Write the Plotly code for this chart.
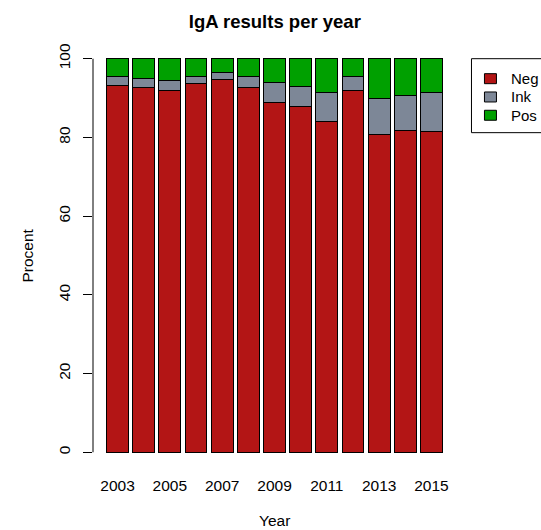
import plotly.graph_objects as go

# ======================================
# DATA
# ======================================

years = [2003, 2004, 2005, 2006, 2007, 2008, 2009,
         2010, 2011, 2012, 2013, 2014, 2015]

neg = [93.2, 92.6, 91.9, 93.6, 94.8, 92.8, 89.0,
       87.9, 84.1, 91.9, 80.7, 81.8, 81.4]
ink = [2.3, 2.4, 2.6, 1.9, 1.7, 2.7, 4.9,
       5.1, 7.2, 3.7, 9.2, 8.8, 9.9]
pos = [4.5, 5.0, 5.5, 4.5, 3.5, 4.5, 6.1,
       7.0, 8.7, 4.4, 10.1, 9.4, 8.7]

year_ticks = [2003, 2005, 2007, 2009, 2011, 2013, 2015]
y_ticks = [0, 20, 40, 60, 80, 100]

series = [
    ("Neg", neg, "#B31515"),
    ("Ink", ink, "#7D8797"),
    ("Pos", pos, "#00A000"),
]

FONT = "Liberation Sans, Arial, sans-serif"
W, H = 541, 530
L, R, T, B = 93, 456.5, 43.3, 468.5   # plot region in pixels


def px(x):
    return (x - L) / (R - L)


def py(y):
    return (B - y) / (B - T)


fig = go.Figure()

for name, vals, color in series:
    fig.add_trace(go.Bar(
        x=years,
        y=vals,
        name=name,
        width=1 / 1.2,
        marker=dict(color=color, line=dict(color="black", width=1)),
        showlegend=False,
    ))

# y axis line only spans 0..100 like base R
fig.add_shape(
    type="line", xref="paper", yref="y",
    x0=0, x1=0, y0=0, y1=100,
    line=dict(color="black", width=1),
)

# =========================
# LEGEND (base R style box)
# =========================

fig.add_shape(
    type="rect", xref="paper", yref="paper",
    x0=px(472), x1=px(570), y0=py(133), y1=py(59),
    line=dict(color="black", width=1), fillcolor="white",
)

for i, (name, vals, color) in enumerate(series):
    cy = 79 + i * 18.3
    fig.add_shape(
        type="rect", xref="paper", yref="paper",
        x0=px(485), x1=px(497), y0=py(cy + 5), y1=py(cy - 5),
        line=dict(color="black", width=1), fillcolor=color,
    )
    fig.add_annotation(
        text=name, xref="paper", yref="paper",
        x=px(510), y=py(cy), xanchor="left", yanchor="middle",
        showarrow=False, font=dict(size=15),
    )

# axis titles
fig.add_annotation(
    text="Procent", xref="paper", yref="y",
    x=px(27), y=50, xanchor="center", yanchor="middle",
    textangle=-90, showarrow=False, font=dict(size=15.5),
)
fig.add_annotation(
    text="Year", xref="paper", yref="paper",
    x=0.5, y=py(521), xanchor="center", yanchor="middle",
    showarrow=False, font=dict(size=15.5),
)

fig.update_layout(
    barmode="stack",
    width=W,
    height=H,
    plot_bgcolor="white",
    paper_bgcolor="white",
    showlegend=False,
    font=dict(family=FONT, size=15.5, color="black"),
    margin=dict(l=L, r=W - R, t=T, b=H - B, autoexpand=False),
    title=dict(
        text="<b>IgA results per year</b>",
        x=0.508, xanchor="center",
        y=1 - 22 / H, yanchor="middle",
        font=dict(size=18.5),
    ),
    xaxis=dict(
        range=[2002.063, 2015.937],
        tickvals=year_ticks,
        ticktext=[str(y) for y in year_ticks],
        ticks="outside", ticklen=3, tickcolor="rgba(0,0,0,0)",
        showgrid=False, zeroline=False, showline=False,
    ),
    yaxis=dict(
        range=[-4, 104],
        tickvals=y_ticks,
        tickangle=-90,
        ticks="outside", ticklen=9, tickcolor="black",
        ticklabelstandoff=7,
        showgrid=False, zeroline=False, showline=False,
    ),
)

fig.write_html(
    "out.html",
    config={"displayModeBar": False},
    post_script="document.body.style.margin='0';",
)
